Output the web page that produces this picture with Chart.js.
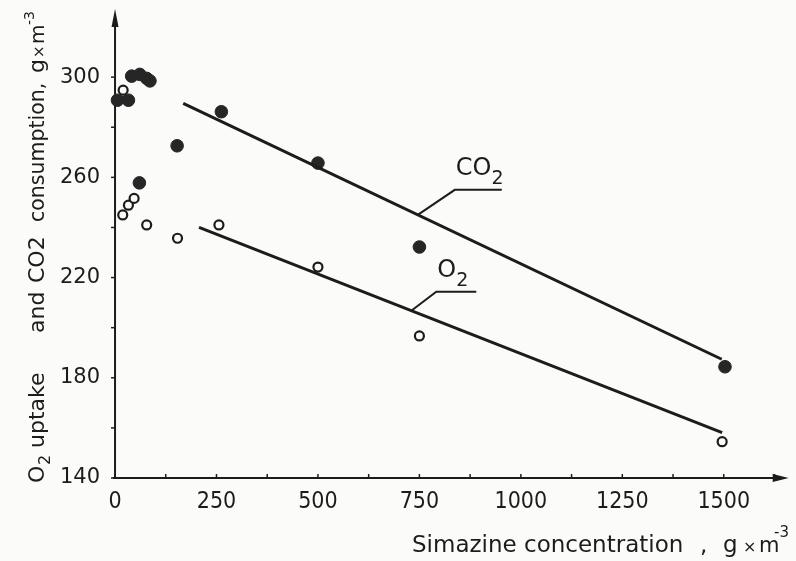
<!DOCTYPE html>
<html>
<head>
<meta charset="utf-8">
<script src="https://cdn.jsdelivr.net/npm/chart.js@4.4.0/dist/chart.umd.min.js"></script>
<style>
  html, body { margin: 0; padding: 0; background: #fbfbfa; }
  canvas { display: block; }
</style>
</head>
<body>
<canvas id="c" width="796" height="561"></canvas>
<script>
// axis ticks as printed on the figure
const xTicks = [0, 125, 250, 375, 500, 625, 750, 875, 1000, 1125, 1250, 1375, 1500, 1625];
const xLabels = [0, 250, 500, 750, 1000, 1250, 1500];
const yTicks = [140, 160, 180, 200, 220, 240, 260, 280, 300];
const yLabels = [140, 180, 220, 260, 300];

// CO2 consumption (filled circles)
const co2X = [6, 33, 41, 61, 78, 86, 60, 153, 262, 500, 750, 1503];
const co2Y = [290.8, 290.8, 300.4, 301.1, 299.5, 298.5, 257.8, 272.6, 286.2, 265.7, 232.2, 184.4];

// O2 uptake (open circles)
const o2X = [20, 19, 33, 47, 78, 154, 256, 500, 750, 1496];
const o2Y = [294.8, 245, 248.9, 251.6, 241, 235.7, 241, 224.2, 196.7, 154.5];

// fitted lines, end points as drawn
const co2LineX = [168, 1495];
const co2LineY = [289.5, 187.4];
const o2LineX = [207, 1496];
const o2LineY = [240, 158.1];

const INK = '#1c1c1c';
const FONT = "'DejaVu Sans', sans-serif";
const pts = (xs, ys) => xs.map((x, i) => ({ x, y: ys[i] }));

function runs(ctx, list, x0, y0) {
  for (const r of list) {
    ctx.font = (r.size || 22) + 'px ' + FONT;
    ctx.fillText(r.t, x0 + r.s, y0 + (r.dy || 0));
  }
}

const decor = {
  id: 'decor',
  beforeDatasetsDraw(chart) {
    const { ctx, chartArea: a, scales: { x, y } } = chart;
    const x0 = x.getPixelForValue(0);
    ctx.save();
    ctx.strokeStyle = INK;
    ctx.fillStyle = INK;
    ctx.lineWidth = 2;
    // x axis with arrow
    ctx.beginPath();
    ctx.moveTo(a.left, a.bottom);
    ctx.lineTo(a.right - 10, a.bottom);
    ctx.stroke();
    ctx.beginPath();
    ctx.moveTo(a.right, a.bottom);
    ctx.lineTo(a.right - 16, a.bottom - 4);
    ctx.lineTo(a.right - 16, a.bottom + 4);
    ctx.closePath();
    ctx.fill();
    // y axis with arrow
    ctx.beginPath();
    ctx.moveTo(x0, a.bottom);
    ctx.lineTo(x0, a.top + 10);
    ctx.stroke();
    ctx.beginPath();
    ctx.moveTo(x0, a.top);
    ctx.lineTo(x0 - 3.5, a.top + 18);
    ctx.lineTo(x0 + 3.5, a.top + 18);
    ctx.closePath();
    ctx.fill();
    // tick marks
    ctx.lineWidth = 1.5;
    for (const t of x.ticks) {
      const px = x.getPixelForValue(t.value);
      ctx.beginPath();
      ctx.moveTo(px, a.bottom);
      ctx.lineTo(px, a.bottom - 4);
      ctx.stroke();
    }
    for (const t of y.ticks) {
      const py = y.getPixelForValue(t.value);
      ctx.beginPath();
      ctx.moveTo(x0, py);
      ctx.lineTo(x0 - 4, py);
      ctx.stroke();
    }
    ctx.restore();
  },
  afterDatasetsDraw(chart) {
    const { ctx, scales: { x, y } } = chart;
    ctx.save();
    ctx.strokeStyle = INK;
    ctx.fillStyle = INK;
    ctx.lineWidth = 2;
    ctx.textBaseline = 'alphabetic';

    // leader + underline labels on the two lines
    const onLine = (lx, ly, v) => ly[0] + (ly[1] - ly[0]) * (v - lx[0]) / (lx[1] - lx[0]);
    const tags = [
      { lx: co2LineX, ly: co2LineY, at: 746, dx: 37, dy: -25, len: 47, main: 'CO', sub: '2' },
      { lx: o2LineX, ly: o2LineY, at: 730, dx: 25, dy: -19, len: 40, main: 'O', sub: '2' }
    ];
    for (const g of tags) {
      const px = x.getPixelForValue(g.at);
      const py = y.getPixelForValue(onLine(g.lx, g.ly, g.at));
      const ux = px + g.dx, uy = py + g.dy;
      ctx.beginPath();
      ctx.moveTo(px, py);
      ctx.lineTo(ux, uy);
      ctx.lineTo(ux + g.len, uy);
      ctx.stroke();
      ctx.font = '24px ' + FONT;
      ctx.fillText(g.main, ux + 1, uy - 15);
      const w = ctx.measureText(g.main).width;
      ctx.font = '19px ' + FONT;
      ctx.fillText(g.sub, ux + 1 + w, uy - 6);
    }

    // x axis title
    runs(ctx, [
      { t: 'Simazine concentration', s: 0, size: 23 },
      { t: ',', s: 288, size: 23 },
      { t: 'g', s: 311, size: 23 },
      { t: '×', s: 331, size: 16 },
      { t: 'm', s: 347, size: 21 },
      { t: '-3', s: 362, size: 15, dy: -15 }
    ], 412, 552);

    // y axis title, rotated
    ctx.translate(44, 483);
    ctx.rotate(-Math.PI / 2);
    runs(ctx, [
      { t: 'O', s: 0 },
      { t: '2', s: 18, size: 16, dy: 6 },
      { t: 'uptake', s: 35 },
      { t: 'and', s: 150 },
      { t: 'CO2', s: 200 },
      { t: 'consumption,', s: 261, size: 20.5 },
      { t: 'g', s: 410 },
      { t: '×', s: 425, size: 15 },
      { t: 'm', s: 439, size: 20 },
      { t: '-3', s: 458, size: 14, dy: -10 }
    ], 0, 0);
    ctx.restore();
  }
};

new Chart(document.getElementById('c'), {
  type: 'scatter',
  data: {
    datasets: [
      {
        type: 'line', data: pts(co2LineX, co2LineY), borderColor: INK, borderWidth: 3,
        pointRadius: 0, fill: false, clip: false
      },
      {
        type: 'line', data: pts(o2LineX, o2LineY), borderColor: INK, borderWidth: 3,
        pointRadius: 0, fill: false, clip: false
      },
      {
        data: pts(co2X, co2Y), pointRadius: 6.3, pointBackgroundColor: '#262626',
        pointBorderColor: '#262626', pointBorderWidth: 1, clip: false
      },
      {
        data: pts(o2X, o2Y), pointRadius: 4.5, pointBackgroundColor: '#fbfbfa',
        pointBorderColor: INK, pointBorderWidth: 2.2, clip: false
      }
    ]
  },
  options: {
    responsive: false,
    animation: false,
    devicePixelRatio: 1,
    layout: { padding: { top: 9, right: 6, left: 0, bottom: 0 } },
    plugins: { legend: { display: false }, tooltip: { enabled: false } },
    scales: {
      x: {
        type: 'linear', min: -5, max: 1660,
        grid: { display: false }, border: { display: false },
        afterBuildTicks: s => { s.ticks = xTicks.map(v => ({ value: v })); },
        afterFit: s => { s.height = 83; s.paddingLeft = 0; s.paddingRight = 0; },
        ticks: {
          autoSkip: false, maxRotation: 0, padding: 2, color: INK,
          font: { family: "'DejaVu Sans Condensed', 'DejaVu Sans', sans-serif", size: 23 },
          callback: v => xLabels.includes(v) ? String(v) : ''
        }
      },
      y: {
        type: 'linear', min: 140, max: 327.2,
        grid: { display: false }, border: { display: false },
        afterBuildTicks: s => { s.ticks = yTicks.map(v => ({ value: v })); },
        afterFit: s => { s.width = 113; s.paddingTop = 0; s.paddingBottom = 0; },
        ticks: {
          autoSkip: false, padding: 5, color: INK,
          font: { family: FONT, size: 21 },
          callback: v => yLabels.includes(v) ? String(v) : ''
        }
      }
    }
  },
  plugins: [decor]
});
</script>
</body>
</html>
